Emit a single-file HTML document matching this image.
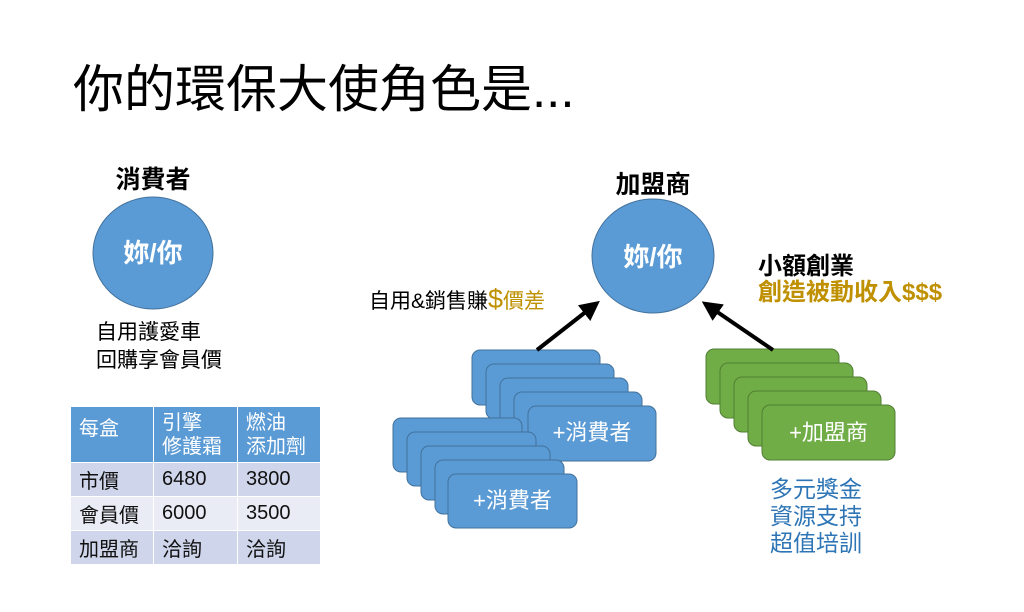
<!DOCTYPE html>
<html><head><meta charset="utf-8"><style>
html,body{margin:0;padding:0;background:#fff;}
body{width:1024px;height:612px;position:relative;overflow:hidden;font-family:"Liberation Sans","Noto Sans CJK TC",sans-serif;}
.t{position:absolute;white-space:nowrap;line-height:1;}
.c{position:absolute;white-space:nowrap;line-height:1;text-align:center;}
table{position:absolute;left:70px;top:406px;border-collapse:collapse;font-size:20px;}
td{border:1.5px solid #fff;padding:0 0 0 8px;vertical-align:middle;color:#111;}
</style></head><body>
<svg width="1024" height="612" style="position:absolute;left:0;top:0">
<defs><marker id="ah" markerWidth="5" markerHeight="5" refX="2.5" refY="2.5" orient="auto"><path d="M0,0 L5,2.5 L0,5 z" fill="#000"/></marker></defs>
<ellipse cx="153" cy="253" rx="60" ry="56" fill="#5b9bd5" stroke="#41719c" stroke-width="1"/>
<ellipse cx="653" cy="256" rx="61" ry="57" fill="#5b9bd5" stroke="#41719c" stroke-width="1"/>
<g fill="#5b9bd5" stroke="#41719c" stroke-width="1">
<rect x="472" y="350" width="128" height="55" rx="8"/>
<rect x="486" y="364" width="128" height="55" rx="8"/>
<rect x="500" y="378" width="128" height="55" rx="8"/>
<rect x="514" y="392" width="128" height="55" rx="8"/>
<rect x="528" y="406" width="128" height="55" rx="8"/>
<rect x="393" y="418" width="129" height="54" rx="8"/>
<rect x="407" y="432" width="129" height="54" rx="8"/>
<rect x="421" y="446" width="129" height="54" rx="8"/>
<rect x="435" y="460" width="129" height="54" rx="8"/>
<rect x="448" y="474" width="129" height="54" rx="8"/>
</g>
<g fill="#70ad47" stroke="#507e32" stroke-width="1">
<rect x="706" y="349" width="133" height="55" rx="8"/>
<rect x="720" y="363" width="133" height="55" rx="8"/>
<rect x="734" y="377" width="133" height="55" rx="8"/>
<rect x="748" y="391" width="133" height="55" rx="8"/>
<rect x="762" y="405" width="133" height="55" rx="8"/>
</g>
<line x1="537" y1="350" x2="592" y2="307" stroke="#000" stroke-width="4" marker-end="url(#ah)"/>
<line x1="773" y1="350" x2="710" y2="307" stroke="#000" stroke-width="4" marker-end="url(#ah)"/>
</svg>
<div class="t" style="left:73px;top:64px;font-size:51px;color:#000;">你的環保大使角色是...</div>
<div class="c" style="left:93px;width:120px;top:168px;font-size:25px;font-weight:bold;">消費者</div>
<div class="c" style="left:93px;width:120px;top:240px;font-size:26px;font-weight:bold;color:#fff;">妳/你</div>
<div class="t" style="left:96px;top:319px;font-size:21px;line-height:28px;">自用護愛車<br>回購享會員價</div>
<div class="c" style="left:593px;width:120px;top:173px;font-size:25px;font-weight:bold;">加盟商</div>
<div class="c" style="left:593px;width:120px;top:244px;font-size:26px;font-weight:bold;color:#fff;">妳/你</div>
<div class="t" style="left:369px;top:286px;font-size:21px;">自用&amp;銷售賺<span style="color:#bf9000;font-size:27px;">$</span><span style="color:#bf9000">價差</span></div>
<div class="t" style="left:758px;top:255px;font-size:24px;font-weight:bold;">小額創業</div>
<div class="t" style="left:758px;top:281px;font-size:24px;font-weight:bold;color:#bf9000;">創造被動收入$$$</div>
<div class="c" style="left:528px;width:128px;top:422px;font-size:22px;color:#fff;">+消費者</div>
<div class="c" style="left:448px;width:129px;top:490px;font-size:22px;color:#fff;">+消費者</div>
<div class="c" style="left:762px;width:133px;top:422px;font-size:22px;color:#fff;">+加盟商</div>
<div class="t" style="left:770px;top:476px;font-size:23px;line-height:27px;color:#2e75b6;">多元獎金<br>資源支持<br>超值培訓</div>
<table>
<tr style="height:56px;background:#5b9bd5;color:#fff"><td style="width:74px;color:#fff;vertical-align:top;padding-top:5px">每盒</td><td style="width:75px;color:#fff;line-height:24px">引擎<br>修護霜</td><td style="width:74px;color:#fff;line-height:24px">燃油<br>添加劑</td></tr>
<tr style="height:34px;background:#cfd5ea"><td>市價</td><td>6480</td><td>3800</td></tr>
<tr style="height:34px;background:#e9ebf5"><td>會員價</td><td>6000</td><td>3500</td></tr>
<tr style="height:34px;background:#cfd5ea"><td>加盟商</td><td>洽詢</td><td>洽詢</td></tr>
</table>
</body></html>
